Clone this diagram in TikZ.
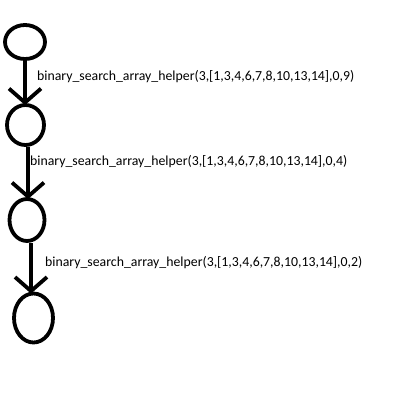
\documentclass[tikz,border=0pt]{standalone}
\usepackage{fontspec}
\setmainfont{Carlito}
\usetikzlibrary{shapes.geometric,arrows.meta}
\tikzset{recNode/.style={draw,ellipse,line width=3.8pt,inner sep=0pt},
 recCall/.style={line width=3.8pt,-{Straight Barb[length=14pt,width=32pt,line width=3.8pt]},shorten >=-2pt},
 recLabel/.style={anchor=west,font=\fontsize{13.8}{16}\selectfont,inner sep=0pt}}

\begin{document}
\begin{tikzpicture}[x=1pt,y=-1pt]
\useasboundingbox (0,0) rectangle (400,400);
\node[recNode,minimum width=40pt,minimum height=34pt] (c1) at (25,42) {};
\node[recNode,minimum width=37pt,minimum height=40pt] (c2) at (25.5,125) {};
\node[recNode,minimum width=35pt,minimum height=42pt] (c3) at (27,220) {};
\node[recNode,minimum width=39pt,minimum height=49pt] (c4) at (33.5,318) {};
\draw[recCall] (c1.south)--(c1.south |- c2.north);
\draw[recCall] ([xshift=2.5pt]c2.south)--([xshift=2.5pt]c2.south |- c3.north);
\draw[recCall] ([xshift=4pt]c3.south)--([xshift=4pt]c3.south |- c4.north);
\node[recLabel] (l1) at (37,77) {binary\_search\_array\_helper(3,[1,3,4,6,7,8,10,13,14],0,9)};
\node[recLabel] (l2) at (30,162) {binary\_search\_array\_helper(3,[1,3,4,6,7,8,10,13,14],0,4)};
\node[recLabel] (l3) at (45,263) {binary\_search\_array\_helper(3,[1,3,4,6,7,8,10,13,14],0,2)};
\end{tikzpicture}
\end{document}
